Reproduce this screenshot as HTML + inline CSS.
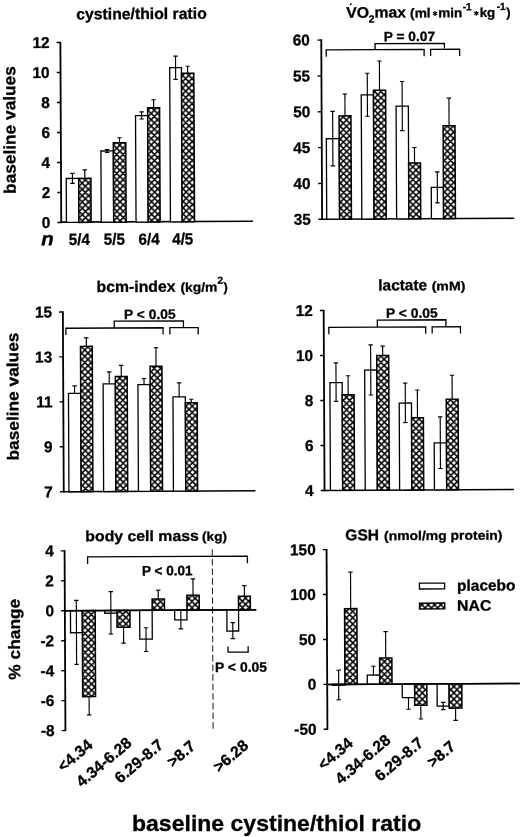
<!DOCTYPE html>
<html><head><meta charset="utf-8"><title>figure</title>
<style>
html,body{margin:0;padding:0;background:#fff;}
svg{display:block;font-family:"Liberation Sans",sans-serif;filter:blur(0.35px);}
text{fill:#000;stroke:#000;stroke-width:0.3px;stroke-linejoin:round;}
</style></head><body>
<svg width="520" height="837" viewBox="0 0 520 837">
<defs>
<pattern id="h" width="6.3" height="6.3" patternUnits="userSpaceOnUse">
<rect width="6.3" height="6.3" fill="#fff"/>
<path d="M-1,-1 L7.3,7.3 M-1,7.3 L7.3,-1 M-4.15,3.15 L3.15,-4.15 M3.15,10.45 L10.45,3.15 M-4.15,3.15 L3.15,10.45 M3.15,-4.15 L10.45,3.15" stroke="#000" stroke-width="1.5" fill="none"/>
</pattern>
</defs>
<rect width="520" height="837" fill="#fff"/>
<g transform="matrix(1,-0.005,0.0048,1,-0.6240,0.7750)">
<line x1="60.80" y1="41.50" x2="60.80" y2="222.50" stroke="#000" stroke-width="1.8" />
<line x1="57.00" y1="222.00" x2="61.30" y2="222.00" stroke="#000" stroke-width="1.4" />
<text transform="translate(49.90,227.40) scale(0.98,1)" font-size="15.7" font-weight="bold" text-anchor="end">0</text>
<line x1="57.00" y1="192.00" x2="61.30" y2="192.00" stroke="#000" stroke-width="1.4" />
<text transform="translate(49.90,197.40) scale(0.98,1)" font-size="15.7" font-weight="bold" text-anchor="end">2</text>
<line x1="57.00" y1="162.00" x2="61.30" y2="162.00" stroke="#000" stroke-width="1.4" />
<text transform="translate(49.90,167.40) scale(0.98,1)" font-size="15.7" font-weight="bold" text-anchor="end">4</text>
<line x1="57.00" y1="132.00" x2="61.30" y2="132.00" stroke="#000" stroke-width="1.4" />
<text transform="translate(49.90,137.40) scale(0.98,1)" font-size="15.7" font-weight="bold" text-anchor="end">6</text>
<line x1="57.00" y1="102.00" x2="61.30" y2="102.00" stroke="#000" stroke-width="1.4" />
<text transform="translate(49.90,107.40) scale(0.98,1)" font-size="15.7" font-weight="bold" text-anchor="end">8</text>
<line x1="57.00" y1="72.00" x2="61.30" y2="72.00" stroke="#000" stroke-width="1.4" />
<text transform="translate(49.90,77.40) scale(0.98,1)" font-size="15.7" font-weight="bold" text-anchor="end">10</text>
<line x1="57.00" y1="42.00" x2="61.30" y2="42.00" stroke="#000" stroke-width="1.4" />
<text transform="translate(49.90,47.40) scale(0.98,1)" font-size="15.7" font-weight="bold" text-anchor="end">12</text>
<line x1="60.00" y1="221.70" x2="252.50" y2="221.70" stroke="#000" stroke-width="1.6" />
<text transform="translate(76.70,19.00) scale(1.0055,1)" font-size="15.7" font-weight="bold" >cystine/thiol ratio</text>
<text transform="translate(15.40,193.20) rotate(-90) scale(1.0290,1)" font-size="16.8" font-weight="bold">baseline values</text>
<rect x="66.00" y="178.05" width="12.45" height="43.95" fill="#fff" stroke="#000" stroke-width="1.3"/>
<rect x="78.45" y="178.05" width="12.25" height="43.95" fill="url(#h)" stroke="#000" stroke-width="1.5"/>
<line x1="72.22" y1="172.95" x2="72.22" y2="183.00" stroke="#000" stroke-width="1.15" />
<line x1="70.02" y1="172.95" x2="74.42" y2="172.95" stroke="#000" stroke-width="1.15" />
<line x1="70.02" y1="183.00" x2="74.42" y2="183.00" stroke="#000" stroke-width="1.15" />
<line x1="84.58" y1="169.50" x2="84.58" y2="178.05" stroke="#000" stroke-width="1.15" />
<line x1="82.38" y1="169.50" x2="86.78" y2="169.50" stroke="#000" stroke-width="1.15" />
<rect x="100.80" y="150.75" width="12.45" height="71.25" fill="#fff" stroke="#000" stroke-width="1.3"/>
<rect x="113.25" y="142.50" width="12.45" height="79.50" fill="url(#h)" stroke="#000" stroke-width="1.5"/>
<line x1="107.03" y1="149.25" x2="107.03" y2="152.25" stroke="#000" stroke-width="1.15" />
<line x1="104.83" y1="149.25" x2="109.23" y2="149.25" stroke="#000" stroke-width="1.15" />
<line x1="104.83" y1="152.25" x2="109.23" y2="152.25" stroke="#000" stroke-width="1.15" />
<line x1="119.47" y1="137.55" x2="119.47" y2="142.50" stroke="#000" stroke-width="1.15" />
<line x1="117.27" y1="137.55" x2="121.67" y2="137.55" stroke="#000" stroke-width="1.15" />
<rect x="135.60" y="115.50" width="12.15" height="106.50" fill="#fff" stroke="#000" stroke-width="1.3"/>
<rect x="147.75" y="107.70" width="11.95" height="114.30" fill="url(#h)" stroke="#000" stroke-width="1.5"/>
<line x1="141.68" y1="111.75" x2="141.68" y2="118.95" stroke="#000" stroke-width="1.15" />
<line x1="139.48" y1="111.75" x2="143.88" y2="111.75" stroke="#000" stroke-width="1.15" />
<line x1="139.48" y1="118.95" x2="143.88" y2="118.95" stroke="#000" stroke-width="1.15" />
<line x1="153.72" y1="99.75" x2="153.72" y2="107.70" stroke="#000" stroke-width="1.15" />
<line x1="151.53" y1="99.75" x2="155.92" y2="99.75" stroke="#000" stroke-width="1.15" />
<rect x="170.00" y="67.80" width="11.75" height="154.20" fill="#fff" stroke="#000" stroke-width="1.3"/>
<rect x="181.75" y="73.50" width="12.35" height="148.50" fill="url(#h)" stroke="#000" stroke-width="1.5"/>
<line x1="175.88" y1="56.25" x2="175.88" y2="79.50" stroke="#000" stroke-width="1.15" />
<line x1="173.68" y1="56.25" x2="178.07" y2="56.25" stroke="#000" stroke-width="1.15" />
<line x1="173.68" y1="79.50" x2="178.07" y2="79.50" stroke="#000" stroke-width="1.15" />
<line x1="187.93" y1="66.45" x2="187.93" y2="73.50" stroke="#000" stroke-width="1.15" />
<line x1="185.73" y1="66.45" x2="190.12" y2="66.45" stroke="#000" stroke-width="1.15" />
<text transform="translate(40.7,244.7) scale(1.08,1)" font-size="19.0" font-weight="bold" font-style="italic">n</text>
<text transform="translate(78.9,244.6) scale(0.94,1)" font-size="16.2" font-weight="bold" text-anchor="middle">5/4</text>
<text transform="translate(113.9,244.6) scale(0.94,1)" font-size="16.2" font-weight="bold" text-anchor="middle">5/5</text>
<text transform="translate(148.6,244.6) scale(0.94,1)" font-size="16.2" font-weight="bold" text-anchor="middle">6/4</text>
<text transform="translate(182.2,244.6) scale(0.94,1)" font-size="16.2" font-weight="bold" text-anchor="middle">4/5</text>
</g>
<g transform="matrix(1,-0.005,0.0048,1,-0.6240,2.0750)">
<line x1="321.70" y1="39.10" x2="321.70" y2="219.30" stroke="#000" stroke-width="1.8" />
<line x1="317.90" y1="218.80" x2="322.20" y2="218.80" stroke="#000" stroke-width="1.4" />
<text transform="translate(310.30,224.20) scale(0.98,1)" font-size="15.7" font-weight="bold" text-anchor="end">35</text>
<line x1="317.90" y1="182.96" x2="322.20" y2="182.96" stroke="#000" stroke-width="1.4" />
<text transform="translate(310.30,188.36) scale(0.98,1)" font-size="15.7" font-weight="bold" text-anchor="end">40</text>
<line x1="317.90" y1="147.12" x2="322.20" y2="147.12" stroke="#000" stroke-width="1.4" />
<text transform="translate(310.30,152.52) scale(0.98,1)" font-size="15.7" font-weight="bold" text-anchor="end">45</text>
<line x1="317.90" y1="111.28" x2="322.20" y2="111.28" stroke="#000" stroke-width="1.4" />
<text transform="translate(310.30,116.68) scale(0.98,1)" font-size="15.7" font-weight="bold" text-anchor="end">50</text>
<line x1="317.90" y1="75.44" x2="322.20" y2="75.44" stroke="#000" stroke-width="1.4" />
<text transform="translate(310.30,80.84) scale(0.98,1)" font-size="15.7" font-weight="bold" text-anchor="end">55</text>
<line x1="317.90" y1="39.60" x2="322.20" y2="39.60" stroke="#000" stroke-width="1.4" />
<text transform="translate(310.30,45.00) scale(0.98,1)" font-size="15.7" font-weight="bold" text-anchor="end">60</text>
<line x1="320.90" y1="218.80" x2="513.80" y2="218.80" stroke="#000" stroke-width="1.6" />
<text transform="translate(346.70,17.40) scale(1.04,1)" font-size="15.3" font-weight="bold">VO</text>
<text transform="translate(369.20,22.20) scale(1.0,1)" font-size="10.3" font-weight="bold">2</text>
<text transform="translate(375.00,17.40) scale(1.03,1)" font-size="15.3" font-weight="bold">max</text>
<text transform="translate(410.60,17.40) scale(1.06,1)" font-size="13" font-weight="bold">(ml</text>
<line x1="435.60" y1="11.20" x2="435.60" y2="16.00" stroke="#000" stroke-width="1.25" />
<line x1="433.52" y1="12.40" x2="437.68" y2="14.80" stroke="#000" stroke-width="1.25" />
<line x1="437.68" y1="12.40" x2="433.52" y2="14.80" stroke="#000" stroke-width="1.25" />
<text transform="translate(438.70,17.40) scale(1.04,1)" font-size="13" font-weight="bold">min</text>
<text transform="translate(463.20,10.40) scale(1.0,1)" font-size="10.2" font-weight="bold">-1</text>
<line x1="476.90" y1="11.20" x2="476.90" y2="16.00" stroke="#000" stroke-width="1.25" />
<line x1="474.82" y1="12.40" x2="478.98" y2="14.80" stroke="#000" stroke-width="1.25" />
<line x1="478.98" y1="12.40" x2="474.82" y2="14.80" stroke="#000" stroke-width="1.25" />
<text transform="translate(480.20,17.40) scale(1.03,1)" font-size="13" font-weight="bold">kg</text>
<text transform="translate(497.20,10.40) scale(1.0,1)" font-size="10.2" font-weight="bold">-1</text>
<text transform="translate(506.80,17.40) scale(1.0,1)" font-size="13" font-weight="bold">)</text>
<circle cx="351.3" cy="3.9" r="1.0" fill="#000"/>
<polyline points="326.60,56.20 326.60,49.40 424.50,49.40 424.50,56.20" fill="none" stroke="#000" stroke-width="1.3"/>
<polyline points="431.00,56.20 431.00,49.40 460.00,49.40 460.00,56.20" fill="none" stroke="#000" stroke-width="1.3"/>
<polyline points="375.50,48.70 375.50,43.50 444.80,43.50 444.80,48.70" fill="none" stroke="#000" stroke-width="1.3"/>
<text transform="translate(384.20,41.00) scale(1.0194,1)" font-size="13.5" font-weight="bold" >P = 0.07</text>
<rect x="326.30" y="138.30" width="12.85" height="80.50" fill="#fff" stroke="#000" stroke-width="1.3"/>
<rect x="339.15" y="115.50" width="11.85" height="103.30" fill="url(#h)" stroke="#000" stroke-width="1.5"/>
<line x1="332.73" y1="111.00" x2="332.73" y2="165.40" stroke="#000" stroke-width="1.15" />
<line x1="330.53" y1="111.00" x2="334.93" y2="111.00" stroke="#000" stroke-width="1.15" />
<line x1="330.53" y1="165.40" x2="334.93" y2="165.40" stroke="#000" stroke-width="1.15" />
<line x1="345.07" y1="93.70" x2="345.07" y2="115.50" stroke="#000" stroke-width="1.15" />
<line x1="342.88" y1="93.70" x2="347.27" y2="93.70" stroke="#000" stroke-width="1.15" />
<rect x="361.40" y="94.60" width="12.25" height="124.20" fill="#fff" stroke="#000" stroke-width="1.3"/>
<rect x="373.65" y="90.00" width="12.15" height="128.80" fill="url(#h)" stroke="#000" stroke-width="1.5"/>
<line x1="367.52" y1="73.00" x2="367.52" y2="116.00" stroke="#000" stroke-width="1.15" />
<line x1="365.32" y1="73.00" x2="369.72" y2="73.00" stroke="#000" stroke-width="1.15" />
<line x1="365.32" y1="116.00" x2="369.72" y2="116.00" stroke="#000" stroke-width="1.15" />
<line x1="379.73" y1="60.80" x2="379.73" y2="90.00" stroke="#000" stroke-width="1.15" />
<line x1="377.53" y1="60.80" x2="381.93" y2="60.80" stroke="#000" stroke-width="1.15" />
<rect x="396.20" y="106.00" width="12.25" height="112.80" fill="#fff" stroke="#000" stroke-width="1.3"/>
<rect x="408.45" y="163.00" width="11.85" height="55.80" fill="url(#h)" stroke="#000" stroke-width="1.5"/>
<line x1="402.32" y1="81.40" x2="402.32" y2="130.60" stroke="#000" stroke-width="1.15" />
<line x1="400.12" y1="81.40" x2="404.52" y2="81.40" stroke="#000" stroke-width="1.15" />
<line x1="400.12" y1="130.60" x2="404.52" y2="130.60" stroke="#000" stroke-width="1.15" />
<line x1="414.38" y1="147.50" x2="414.38" y2="163.00" stroke="#000" stroke-width="1.15" />
<line x1="412.18" y1="147.50" x2="416.57" y2="147.50" stroke="#000" stroke-width="1.15" />
<rect x="431.00" y="187.50" width="12.15" height="31.30" fill="#fff" stroke="#000" stroke-width="1.3"/>
<rect x="443.15" y="126.00" width="11.85" height="92.80" fill="url(#h)" stroke="#000" stroke-width="1.5"/>
<line x1="437.07" y1="172.00" x2="437.07" y2="203.00" stroke="#000" stroke-width="1.15" />
<line x1="434.88" y1="172.00" x2="439.27" y2="172.00" stroke="#000" stroke-width="1.15" />
<line x1="434.88" y1="203.00" x2="439.27" y2="203.00" stroke="#000" stroke-width="1.15" />
<line x1="449.07" y1="98.30" x2="449.07" y2="126.00" stroke="#000" stroke-width="1.15" />
<line x1="446.88" y1="98.30" x2="451.27" y2="98.30" stroke="#000" stroke-width="1.15" />
</g>
<g transform="matrix(1,-0.005,0.0048,1,-1.9200,0.7750)">
<line x1="63.30" y1="311.00" x2="63.30" y2="491.80" stroke="#000" stroke-width="1.8" />
<line x1="59.50" y1="491.20" x2="63.80" y2="491.20" stroke="#000" stroke-width="1.4" />
<text transform="translate(52.40,496.60) scale(0.98,1)" font-size="15.7" font-weight="bold" text-anchor="end">7</text>
<line x1="59.50" y1="446.28" x2="63.80" y2="446.28" stroke="#000" stroke-width="1.4" />
<text transform="translate(52.40,451.68) scale(0.98,1)" font-size="15.7" font-weight="bold" text-anchor="end">9</text>
<line x1="59.50" y1="401.36" x2="63.80" y2="401.36" stroke="#000" stroke-width="1.4" />
<text transform="translate(52.40,406.76) scale(0.98,1)" font-size="15.7" font-weight="bold" text-anchor="end">11</text>
<line x1="59.50" y1="356.44" x2="63.80" y2="356.44" stroke="#000" stroke-width="1.4" />
<text transform="translate(52.40,361.84) scale(0.98,1)" font-size="15.7" font-weight="bold" text-anchor="end">13</text>
<line x1="59.50" y1="311.52" x2="63.80" y2="311.52" stroke="#000" stroke-width="1.4" />
<text transform="translate(52.40,316.92) scale(0.98,1)" font-size="15.7" font-weight="bold" text-anchor="end">15</text>
<line x1="62.50" y1="491.30" x2="255.00" y2="491.30" stroke="#000" stroke-width="1.6" />
<text transform="translate(97.10,291.80) scale(1.0139,1)" font-size="15.6" font-weight="bold" >bcm-index</text>
<text transform="translate(180.90,291.80) scale(1.0784,1)" font-size="12.9" font-weight="bold" >(kg/m</text>
<text transform="translate(218.10,284.10) scale(1.0,1)" font-size="10.2" font-weight="bold">2</text>
<text transform="translate(224.10,291.80) scale(1.0,1)" font-size="12.9" font-weight="bold">)</text>
<text transform="translate(18.50,459.90) rotate(-90) scale(1.0630,1)" font-size="16.3" font-weight="bold">baseline values</text>
<polyline points="66.20,334.60 66.20,327.80 163.40,327.80 163.40,334.60" fill="none" stroke="#000" stroke-width="1.3"/>
<polyline points="170.20,334.60 170.20,327.80 198.50,327.80 198.50,334.60" fill="none" stroke="#000" stroke-width="1.3"/>
<polyline points="114.60,327.80 114.60,321.00 183.80,321.00 183.80,327.80" fill="none" stroke="#000" stroke-width="1.3"/>
<text transform="translate(124.50,318.90) scale(1.0214,1)" font-size="13.5" font-weight="bold" >P &lt; 0.05</text>
<rect x="68.50" y="393.00" width="12.25" height="98.30" fill="#fff" stroke="#000" stroke-width="1.3"/>
<rect x="80.75" y="346.00" width="11.75" height="145.30" fill="url(#h)" stroke="#000" stroke-width="1.5"/>
<line x1="74.62" y1="385.50" x2="74.62" y2="393.00" stroke="#000" stroke-width="1.15" />
<line x1="72.42" y1="385.50" x2="76.83" y2="385.50" stroke="#000" stroke-width="1.15" />
<line x1="86.62" y1="337.50" x2="86.62" y2="346.00" stroke="#000" stroke-width="1.15" />
<line x1="84.42" y1="337.50" x2="88.83" y2="337.50" stroke="#000" stroke-width="1.15" />
<rect x="103.20" y="383.70" width="12.25" height="107.60" fill="#fff" stroke="#000" stroke-width="1.3"/>
<rect x="115.45" y="376.30" width="11.85" height="115.00" fill="url(#h)" stroke="#000" stroke-width="1.5"/>
<line x1="109.33" y1="371.70" x2="109.33" y2="383.70" stroke="#000" stroke-width="1.15" />
<line x1="107.12" y1="371.70" x2="111.53" y2="371.70" stroke="#000" stroke-width="1.15" />
<line x1="121.38" y1="365.20" x2="121.38" y2="376.30" stroke="#000" stroke-width="1.15" />
<line x1="119.17" y1="365.20" x2="123.58" y2="365.20" stroke="#000" stroke-width="1.15" />
<rect x="138.00" y="384.60" width="12.25" height="106.70" fill="#fff" stroke="#000" stroke-width="1.3"/>
<rect x="150.25" y="366.20" width="11.85" height="125.10" fill="url(#h)" stroke="#000" stroke-width="1.5"/>
<line x1="144.12" y1="378.50" x2="144.12" y2="384.60" stroke="#000" stroke-width="1.15" />
<line x1="141.93" y1="378.50" x2="146.32" y2="378.50" stroke="#000" stroke-width="1.15" />
<line x1="156.18" y1="347.70" x2="156.18" y2="366.20" stroke="#000" stroke-width="1.15" />
<line x1="153.98" y1="347.70" x2="158.38" y2="347.70" stroke="#000" stroke-width="1.15" />
<rect x="173.00" y="397.00" width="12.35" height="94.30" fill="#fff" stroke="#000" stroke-width="1.3"/>
<rect x="185.35" y="403.00" width="11.85" height="88.30" fill="url(#h)" stroke="#000" stroke-width="1.5"/>
<line x1="179.18" y1="383.00" x2="179.18" y2="397.00" stroke="#000" stroke-width="1.15" />
<line x1="176.98" y1="383.00" x2="181.38" y2="383.00" stroke="#000" stroke-width="1.15" />
<line x1="191.27" y1="399.40" x2="191.27" y2="403.00" stroke="#000" stroke-width="1.15" />
<line x1="189.07" y1="399.40" x2="193.47" y2="399.40" stroke="#000" stroke-width="1.15" />
</g>
<g transform="matrix(1,-0.005,0.0048,1,-1.9200,2.0750)">
<line x1="324.10" y1="309.50" x2="324.10" y2="490.50" stroke="#000" stroke-width="1.8" />
<line x1="320.30" y1="490.00" x2="324.60" y2="490.00" stroke="#000" stroke-width="1.4" />
<text transform="translate(313.20,495.40) scale(0.98,1)" font-size="15.7" font-weight="bold" text-anchor="end">4</text>
<line x1="320.30" y1="445.00" x2="324.60" y2="445.00" stroke="#000" stroke-width="1.4" />
<text transform="translate(313.20,450.40) scale(0.98,1)" font-size="15.7" font-weight="bold" text-anchor="end">6</text>
<line x1="320.30" y1="400.00" x2="324.60" y2="400.00" stroke="#000" stroke-width="1.4" />
<text transform="translate(313.20,405.40) scale(0.98,1)" font-size="15.7" font-weight="bold" text-anchor="end">8</text>
<line x1="320.30" y1="355.00" x2="324.60" y2="355.00" stroke="#000" stroke-width="1.4" />
<text transform="translate(313.20,360.40) scale(0.98,1)" font-size="15.7" font-weight="bold" text-anchor="end">10</text>
<line x1="320.30" y1="310.00" x2="324.60" y2="310.00" stroke="#000" stroke-width="1.4" />
<text transform="translate(313.20,315.40) scale(0.98,1)" font-size="15.7" font-weight="bold" text-anchor="end">12</text>
<line x1="323.30" y1="490.00" x2="513.50" y2="490.00" stroke="#000" stroke-width="1.6" />
<text transform="translate(378.80,290.30) scale(0.9957,1)" font-size="15.5" font-weight="bold" >lactate</text>
<text transform="translate(432.20,290.40) scale(1.1380,1)" font-size="12.4" font-weight="bold" >(mM)</text>
<polyline points="329.20,333.70 329.20,326.90 426.00,326.90 426.00,333.70" fill="none" stroke="#000" stroke-width="1.3"/>
<polyline points="432.50,333.70 432.50,326.90 460.80,326.90 460.80,333.70" fill="none" stroke="#000" stroke-width="1.3"/>
<polyline points="377.70,326.90 377.70,319.90 446.30,319.90 446.30,326.90" fill="none" stroke="#000" stroke-width="1.3"/>
<text transform="translate(386.30,317.70) scale(1.0293,1)" font-size="13.5" font-weight="bold" >P &lt; 0.05</text>
<rect x="330.00" y="382.20" width="12.25" height="107.80" fill="#fff" stroke="#000" stroke-width="1.3"/>
<rect x="342.25" y="394.50" width="11.85" height="95.50" fill="url(#h)" stroke="#000" stroke-width="1.5"/>
<line x1="336.12" y1="362.50" x2="336.12" y2="401.00" stroke="#000" stroke-width="1.15" />
<line x1="333.93" y1="362.50" x2="338.32" y2="362.50" stroke="#000" stroke-width="1.15" />
<line x1="333.93" y1="401.00" x2="338.32" y2="401.00" stroke="#000" stroke-width="1.15" />
<line x1="348.18" y1="375.40" x2="348.18" y2="394.50" stroke="#000" stroke-width="1.15" />
<line x1="345.98" y1="375.40" x2="350.38" y2="375.40" stroke="#000" stroke-width="1.15" />
<rect x="364.80" y="369.80" width="12.15" height="120.20" fill="#fff" stroke="#000" stroke-width="1.3"/>
<rect x="376.95" y="355.40" width="11.95" height="134.60" fill="url(#h)" stroke="#000" stroke-width="1.5"/>
<line x1="370.88" y1="344.60" x2="370.88" y2="394.80" stroke="#000" stroke-width="1.15" />
<line x1="368.68" y1="344.60" x2="373.07" y2="344.60" stroke="#000" stroke-width="1.15" />
<line x1="368.68" y1="394.80" x2="373.07" y2="394.80" stroke="#000" stroke-width="1.15" />
<line x1="382.92" y1="346.00" x2="382.92" y2="355.40" stroke="#000" stroke-width="1.15" />
<line x1="380.72" y1="346.00" x2="385.12" y2="346.00" stroke="#000" stroke-width="1.15" />
<rect x="399.20" y="403.00" width="12.25" height="87.00" fill="#fff" stroke="#000" stroke-width="1.3"/>
<rect x="411.45" y="417.80" width="11.85" height="72.20" fill="url(#h)" stroke="#000" stroke-width="1.5"/>
<line x1="405.32" y1="383.00" x2="405.32" y2="422.50" stroke="#000" stroke-width="1.15" />
<line x1="403.12" y1="383.00" x2="407.52" y2="383.00" stroke="#000" stroke-width="1.15" />
<line x1="403.12" y1="422.50" x2="407.52" y2="422.50" stroke="#000" stroke-width="1.15" />
<line x1="417.38" y1="390.00" x2="417.38" y2="417.80" stroke="#000" stroke-width="1.15" />
<line x1="415.18" y1="390.00" x2="419.57" y2="390.00" stroke="#000" stroke-width="1.15" />
<rect x="434.00" y="443.00" width="12.25" height="47.00" fill="#fff" stroke="#000" stroke-width="1.3"/>
<rect x="446.25" y="399.40" width="11.85" height="90.60" fill="url(#h)" stroke="#000" stroke-width="1.5"/>
<line x1="440.12" y1="417.00" x2="440.12" y2="468.60" stroke="#000" stroke-width="1.15" />
<line x1="437.93" y1="417.00" x2="442.32" y2="417.00" stroke="#000" stroke-width="1.15" />
<line x1="437.93" y1="468.60" x2="442.32" y2="468.60" stroke="#000" stroke-width="1.15" />
<line x1="452.18" y1="375.40" x2="452.18" y2="399.40" stroke="#000" stroke-width="1.15" />
<line x1="449.98" y1="375.40" x2="454.38" y2="375.40" stroke="#000" stroke-width="1.15" />
</g>
<g transform="matrix(1,-0.005,0.0048,1,-3.0720,0.8000)">
<line x1="65.00" y1="549.90" x2="65.00" y2="730.60" stroke="#000" stroke-width="1.8" />
<line x1="61.20" y1="730.10" x2="65.50" y2="730.10" stroke="#000" stroke-width="1.4" />
<text transform="translate(54.10,735.50) scale(0.98,1)" font-size="15.7" font-weight="bold" text-anchor="end">-8</text>
<line x1="61.20" y1="700.15" x2="65.50" y2="700.15" stroke="#000" stroke-width="1.4" />
<text transform="translate(54.10,705.55) scale(0.98,1)" font-size="15.7" font-weight="bold" text-anchor="end">-6</text>
<line x1="61.20" y1="670.20" x2="65.50" y2="670.20" stroke="#000" stroke-width="1.4" />
<text transform="translate(54.10,675.60) scale(0.98,1)" font-size="15.7" font-weight="bold" text-anchor="end">-4</text>
<line x1="61.20" y1="640.25" x2="65.50" y2="640.25" stroke="#000" stroke-width="1.4" />
<text transform="translate(54.10,645.65) scale(0.98,1)" font-size="15.7" font-weight="bold" text-anchor="end">-2</text>
<line x1="61.20" y1="610.30" x2="65.50" y2="610.30" stroke="#000" stroke-width="1.4" />
<text transform="translate(54.10,615.70) scale(0.98,1)" font-size="15.7" font-weight="bold" text-anchor="end">0</text>
<line x1="61.20" y1="580.35" x2="65.50" y2="580.35" stroke="#000" stroke-width="1.4" />
<text transform="translate(54.10,585.75) scale(0.98,1)" font-size="15.7" font-weight="bold" text-anchor="end">2</text>
<line x1="61.20" y1="550.40" x2="65.50" y2="550.40" stroke="#000" stroke-width="1.4" />
<text transform="translate(54.10,555.80) scale(0.98,1)" font-size="15.7" font-weight="bold" text-anchor="end">4</text>
<line x1="64.20" y1="610.30" x2="256.40" y2="610.30" stroke="#000" stroke-width="1.6" />
<text transform="translate(85.80,541.00) scale(1.0634,1)" font-size="14.9" font-weight="bold" >body cell mass</text>
<text transform="translate(202.50,541.00) scale(1.0824,1)" font-size="12.6" font-weight="bold" >(kg)</text>
<text transform="translate(20.00,679.00) rotate(-90) scale(1.0517,1)" font-size="16.5" font-weight="bold">% change</text>
<polyline points="88.00,563.60 88.00,556.60 247.80,556.60 247.80,563.60" fill="none" stroke="#000" stroke-width="1.3"/>
<text transform="translate(142.20,575.40) scale(0.9909,1)" font-size="13.7" font-weight="bold" >P &lt; 0.01</text>
<line x1="212.70" y1="549.50" x2="212.70" y2="730.50" stroke="#000" stroke-width="1.0" stroke-dasharray="6.6 3" opacity="0.9"/>
<rect x="70.60" y="610.30" width="11.80" height="22.00" fill="#fff" stroke="#000" stroke-width="1.3"/>
<rect x="82.40" y="610.30" width="12.90" height="86.00" fill="url(#h)" stroke="#000" stroke-width="1.5"/>
<line x1="76.50" y1="600.00" x2="76.50" y2="664.00" stroke="#000" stroke-width="1.15" />
<line x1="74.30" y1="600.00" x2="78.70" y2="600.00" stroke="#000" stroke-width="1.15" />
<line x1="74.30" y1="664.00" x2="78.70" y2="664.00" stroke="#000" stroke-width="1.15" />
<line x1="88.85" y1="714.50" x2="88.85" y2="696.30" stroke="#000" stroke-width="1.15" />
<line x1="86.65" y1="714.50" x2="91.05" y2="714.50" stroke="#000" stroke-width="1.15" />
<rect x="104.90" y="610.30" width="12.20" height="2.70" fill="#fff" stroke="#000" stroke-width="1.3"/>
<rect x="117.10" y="610.30" width="13.00" height="16.70" fill="url(#h)" stroke="#000" stroke-width="1.5"/>
<line x1="111.00" y1="591.40" x2="111.00" y2="633.80" stroke="#000" stroke-width="1.15" />
<line x1="108.80" y1="591.40" x2="113.20" y2="591.40" stroke="#000" stroke-width="1.15" />
<line x1="108.80" y1="633.80" x2="113.20" y2="633.80" stroke="#000" stroke-width="1.15" />
<line x1="123.60" y1="643.00" x2="123.60" y2="627.00" stroke="#000" stroke-width="1.15" />
<line x1="121.40" y1="643.00" x2="125.80" y2="643.00" stroke="#000" stroke-width="1.15" />
<rect x="139.80" y="610.30" width="12.50" height="28.70" fill="#fff" stroke="#000" stroke-width="1.3"/>
<rect x="152.30" y="599.00" width="12.30" height="11.30" fill="url(#h)" stroke="#000" stroke-width="1.5"/>
<line x1="146.05" y1="627.70" x2="146.05" y2="651.40" stroke="#000" stroke-width="1.15" />
<line x1="143.85" y1="627.70" x2="148.25" y2="627.70" stroke="#000" stroke-width="1.15" />
<line x1="143.85" y1="651.40" x2="148.25" y2="651.40" stroke="#000" stroke-width="1.15" />
<line x1="158.45" y1="590.20" x2="158.45" y2="599.00" stroke="#000" stroke-width="1.15" />
<line x1="156.25" y1="590.20" x2="160.65" y2="590.20" stroke="#000" stroke-width="1.15" />
<rect x="174.80" y="610.30" width="12.30" height="9.70" fill="#fff" stroke="#000" stroke-width="1.3"/>
<rect x="187.10" y="595.40" width="12.30" height="14.90" fill="url(#h)" stroke="#000" stroke-width="1.5"/>
<line x1="180.95" y1="610.00" x2="180.95" y2="629.00" stroke="#000" stroke-width="1.15" />
<line x1="178.75" y1="610.00" x2="183.15" y2="610.00" stroke="#000" stroke-width="1.15" />
<line x1="178.75" y1="629.00" x2="183.15" y2="629.00" stroke="#000" stroke-width="1.15" />
<line x1="193.25" y1="579.00" x2="193.25" y2="595.40" stroke="#000" stroke-width="1.15" />
<line x1="191.05" y1="579.00" x2="195.45" y2="579.00" stroke="#000" stroke-width="1.15" />
<rect x="227.00" y="610.30" width="11.70" height="21.10" fill="#fff" stroke="#000" stroke-width="1.3"/>
<rect x="238.70" y="596.60" width="11.80" height="13.70" fill="url(#h)" stroke="#000" stroke-width="1.5"/>
<line x1="232.85" y1="623.00" x2="232.85" y2="639.00" stroke="#000" stroke-width="1.15" />
<line x1="230.65" y1="623.00" x2="235.05" y2="623.00" stroke="#000" stroke-width="1.15" />
<line x1="230.65" y1="639.00" x2="235.05" y2="639.00" stroke="#000" stroke-width="1.15" />
<line x1="244.60" y1="586.00" x2="244.60" y2="596.60" stroke="#000" stroke-width="1.15" />
<line x1="242.40" y1="586.00" x2="246.80" y2="586.00" stroke="#000" stroke-width="1.15" />
<line x1="64.20" y1="610.30" x2="256.40" y2="610.30" stroke="#000" stroke-width="1.6" />
<polyline points="228.00,646.80 228.00,652.50 248.10,652.50 248.10,646.80" fill="none" stroke="#000" stroke-width="1.3"/>
<text transform="translate(214.80,672.20) scale(1.0182,1)" font-size="13.7" font-weight="bold" >P &lt; 0.05</text>
<text transform="translate(93.20,746.20) rotate(-40)" font-size="15.8" font-weight="bold" text-anchor="end" >&lt;4.34</text>
<text transform="translate(132.30,744.40) rotate(-40)" font-size="15.8" font-weight="bold" text-anchor="end" >4.34-6.28</text>
<text transform="translate(164.00,746.50) rotate(-40)" font-size="15.8" font-weight="bold" text-anchor="end" >6.29-8.7</text>
<text transform="translate(196.00,748.00) rotate(-40)" font-size="15.8" font-weight="bold" text-anchor="end" >&gt;8.7</text>
<text transform="translate(249.00,747.50) rotate(-40)" font-size="15.8" font-weight="bold" text-anchor="end" >&gt;6.28</text>
</g>
<g transform="matrix(1,-0.005,0.0048,1,-3.0720,2.1000)">
<line x1="327.00" y1="548.60" x2="327.00" y2="729.30" stroke="#000" stroke-width="1.8" />
<line x1="323.20" y1="728.82" x2="327.50" y2="728.82" stroke="#000" stroke-width="1.4" />
<text transform="translate(316.10,734.22) scale(0.98,1)" font-size="15.7" font-weight="bold" text-anchor="end">-50</text>
<line x1="323.20" y1="683.90" x2="327.50" y2="683.90" stroke="#000" stroke-width="1.4" />
<text transform="translate(316.10,689.30) scale(0.98,1)" font-size="15.7" font-weight="bold" text-anchor="end">0</text>
<line x1="323.20" y1="638.98" x2="327.50" y2="638.98" stroke="#000" stroke-width="1.4" />
<text transform="translate(316.10,644.38) scale(0.98,1)" font-size="15.7" font-weight="bold" text-anchor="end">50</text>
<line x1="323.20" y1="594.05" x2="327.50" y2="594.05" stroke="#000" stroke-width="1.4" />
<text transform="translate(316.10,599.45) scale(0.98,1)" font-size="15.7" font-weight="bold" text-anchor="end">100</text>
<line x1="323.20" y1="549.12" x2="327.50" y2="549.12" stroke="#000" stroke-width="1.4" />
<text transform="translate(316.10,554.52) scale(0.98,1)" font-size="15.7" font-weight="bold" text-anchor="end">150</text>
<line x1="326.20" y1="684.00" x2="519.50" y2="684.00" stroke="#000" stroke-width="1.6" />
<text transform="translate(345.80,540.00) scale(1.0128,1)" font-size="15.4" font-weight="bold" >GSH</text>
<text transform="translate(384.50,540.00) scale(1.0817,1)" font-size="12.9" font-weight="bold" >(nmol/mg protein)</text>
<rect x="332.20" y="684.00" width="12.50" height="0.80" fill="#fff" stroke="#000" stroke-width="1.3"/>
<rect x="344.70" y="608.30" width="12.30" height="75.70" fill="url(#h)" stroke="#000" stroke-width="1.5"/>
<line x1="338.45" y1="669.80" x2="338.45" y2="699.40" stroke="#000" stroke-width="1.15" />
<line x1="336.25" y1="669.80" x2="340.65" y2="669.80" stroke="#000" stroke-width="1.15" />
<line x1="336.25" y1="699.40" x2="340.65" y2="699.40" stroke="#000" stroke-width="1.15" />
<line x1="350.85" y1="571.70" x2="350.85" y2="608.30" stroke="#000" stroke-width="1.15" />
<line x1="348.65" y1="571.70" x2="353.05" y2="571.70" stroke="#000" stroke-width="1.15" />
<rect x="367.10" y="674.80" width="12.40" height="9.20" fill="#fff" stroke="#000" stroke-width="1.3"/>
<rect x="379.50" y="657.80" width="12.30" height="26.20" fill="url(#h)" stroke="#000" stroke-width="1.5"/>
<line x1="373.30" y1="666.00" x2="373.30" y2="674.80" stroke="#000" stroke-width="1.15" />
<line x1="371.10" y1="666.00" x2="375.50" y2="666.00" stroke="#000" stroke-width="1.15" />
<line x1="385.65" y1="631.40" x2="385.65" y2="657.80" stroke="#000" stroke-width="1.15" />
<line x1="383.45" y1="631.40" x2="387.85" y2="631.40" stroke="#000" stroke-width="1.15" />
<rect x="402.00" y="684.00" width="12.40" height="13.50" fill="#fff" stroke="#000" stroke-width="1.3"/>
<rect x="414.40" y="684.00" width="12.20" height="21.20" fill="url(#h)" stroke="#000" stroke-width="1.5"/>
<line x1="408.20" y1="709.20" x2="408.20" y2="697.50" stroke="#000" stroke-width="1.15" />
<line x1="406.00" y1="709.20" x2="410.40" y2="709.20" stroke="#000" stroke-width="1.15" />
<line x1="420.50" y1="719.00" x2="420.50" y2="705.20" stroke="#000" stroke-width="1.15" />
<line x1="418.30" y1="719.00" x2="422.70" y2="719.00" stroke="#000" stroke-width="1.15" />
<rect x="436.90" y="684.00" width="12.00" height="22.20" fill="#fff" stroke="#000" stroke-width="1.3"/>
<rect x="448.90" y="684.00" width="12.70" height="24.30" fill="url(#h)" stroke="#000" stroke-width="1.5"/>
<line x1="442.90" y1="702.50" x2="442.90" y2="709.80" stroke="#000" stroke-width="1.15" />
<line x1="440.70" y1="702.50" x2="445.10" y2="702.50" stroke="#000" stroke-width="1.15" />
<line x1="440.70" y1="709.80" x2="445.10" y2="709.80" stroke="#000" stroke-width="1.15" />
<line x1="455.25" y1="720.60" x2="455.25" y2="708.30" stroke="#000" stroke-width="1.15" />
<line x1="453.05" y1="720.60" x2="457.45" y2="720.60" stroke="#000" stroke-width="1.15" />
<line x1="326.20" y1="684.00" x2="519.50" y2="684.00" stroke="#000" stroke-width="1.6" />
<rect x="419.70" y="583.20" width="25.20" height="5.80" fill="#fff" stroke="#000" stroke-width="1.3"/>
<rect x="419.70" y="603.20" width="25.20" height="5.80" fill="url(#h)" stroke="#000" stroke-width="1.5"/>
<text transform="translate(457.30,590.90) scale(1.0185,1)" font-size="15.2" font-weight="bold" >placebo</text>
<text transform="translate(457.20,611.00) scale(1.0446,1)" font-size="15.2" font-weight="bold" >NAC</text>
<text transform="translate(353.50,744.50) rotate(-40)" font-size="15.8" font-weight="bold" text-anchor="end" >&lt;4.34</text>
<text transform="translate(391.30,741.60) rotate(-40)" font-size="15.8" font-weight="bold" text-anchor="end" >4.34-6.28</text>
<text transform="translate(424.00,744.50) rotate(-40)" font-size="15.8" font-weight="bold" text-anchor="end" >6.29-8.7</text>
<text transform="translate(456.00,748.30) rotate(-40)" font-size="15.8" font-weight="bold" text-anchor="end" >&gt;8.7</text>
</g>
<text transform="translate(132.00,830.80) scale(1.0470,1)" font-size="22" font-weight="bold" >baseline cystine/thiol ratio</text>
</svg></body></html>
